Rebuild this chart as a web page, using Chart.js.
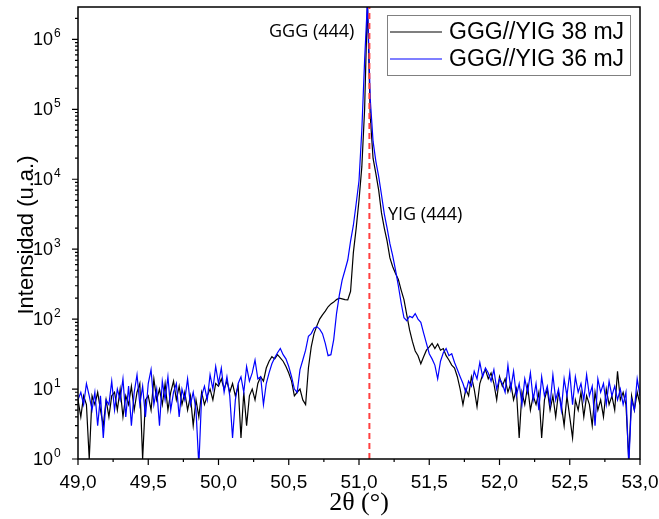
<!DOCTYPE html>
<html>
<head>
<meta charset="utf-8">
<script src="https://cdn.jsdelivr.net/npm/chart.js@4.4.0/dist/chart.umd.min.js"></script>
<style>
  html, body { margin: 0; padding: 0; background: #fff; }
</style>
</head>
<body>
<canvas id="xrd" width="659" height="519"></canvas>
<script>
// 2theta grid, 49.00 .. 53.00 in steps of 0.02
const thetaStart = 49.0;
const thetaStep = 0.02;

// GGG//YIG 38 mJ (black), one row = 0.2 deg
const counts38 = [
  7, 4, 8, 6, 1, 8, 6, 9, 5, 3,
  7, 4, 8, 9, 5, 10, 4, 8, 6, 11,
  5, 9, 12, 1, 7, 8, 5, 14, 7, 10,
  6, 12, 5, 9, 13, 7, 11, 6, 9, 5,
  8, 3, 7, 4, 9, 6, 8, 10, 7, 12,
  11, 14, 10, 13, 9, 12, 8, 11, 2, 9,
  3, 8, 10, 7, 12, 15, 13, 20, 25, 29,
  27, 31, 28, 25, 21, 17, 13, 8, 9, 10,
  7, 6, 20, 40, 62, 80, 100, 115, 130, 150,
  165, 175, 190, 200, 195, 190, 188, 250, 900, 2000,
  5000, 15000, 100000, 3500000, 80000, 20000, 12000, 7000, 3300, 2000,
  1300, 750, 560, 450, 370, 260, 190, 115, 70, 48,
  35, 30, 23, 29, 36, 40, 45, 38, 44, 36,
  38, 30, 26, 22, 20, 15, 10, 6, 10, 8,
  15, 10, 5.6, 12, 16, 19, 14, 17, 12, 7,
  15, 11, 14, 9, 12, 7, 10, 2, 9, 6,
  11, 5, 8, 6, 9, 2, 7, 10, 5, 8,
  4, 9, 6, 3, 8, 4, 2, 7, 5, 9,
  4, 8, 6, 3, 9, 5, 7, 4, 10, 6,
  8, 5, 18, 7, 9, 6, 1, 8, 5, 9,
  6
];

// GGG//YIG 36 mJ (blue)
const counts36 = [
  7, 9, 6, 12, 8, 5, 9, 3, 8, 2,
  7, 6, 13, 5, 10, 7, 14, 4, 11, 3,
  9, 16, 6, 11, 4, 12, 19, 6, 10, 3,
  13, 7, 15, 5, 9, 12, 4, 10, 7, 14,
  6, 9, 5, 0.8, 8, 11, 7, 16, 10, 21,
  12, 20, 9, 15, 8, 2, 7, 12, 15, 9,
  21, 13, 17, 26, 14, 15, 6, 12, 17, 23,
  28, 33, 38, 31, 27, 21, 15, 10, 9, 19,
  26, 36, 57, 62, 74, 78, 72, 62, 45, 30,
  31, 51, 120, 220, 360, 500, 700, 1300, 2200, 4500,
  9500, 50000, 500000, 3500000, 140000, 35000, 18000, 11000, 6000, 3200,
  2000, 1200, 800, 500, 300, 170, 105, 95, 110, 105,
  120, 100, 90, 63, 45, 32, 27, 22, 14, 25,
  33, 38, 30, 32, 24, 19, 15, 12, 9, 13,
  11, 18, 14, 24, 15, 20, 17, 13, 19, 10,
  14, 12, 9, 22, 10, 18, 8, 12, 6, 14,
  9, 17, 7, 12, 5, 15, 8, 11, 6, 16,
  7, 10, 5, 14, 8, 17, 6, 15, 9, 12,
  7, 16, 8, 11, 3, 14, 9, 12, 6, 13,
  8, 11, 7, 10, 6, 9, 0.8, 7, 5, 14,
  8
];

const seriesLabels = ['GGG//YIG 38 mJ', 'GGG//YIG 36 mJ'];
const xTickValues = [49.0, 49.5, 50.0, 50.5, 51.0, 51.5, 52.0, 52.5, 53.0];
const xTickLabels = ['49,0', '49,5', '50,0', '50,5', '51,0', '51,5', '52,0', '52,5', '53,0'];
const yExponents = [0, 1, 2, 3, 4, 5, 6];
const ggg444 = 51.074; // red dashed marker
const yMax = 2.9e6;

function toPoints(values) {
  return values.map((v, i) => ({ x: +(thetaStart + i * thetaStep).toFixed(2), y: v }));
}

const sansFont = '"Liberation Sans", Arial, sans-serif';

// frame, ticks, labels, legend and peak names
const decorations = {
  id: 'decorations',
  afterDraw(chart) {
    const ctx = chart.ctx;
    const area = chart.chartArea;
    const xs = chart.scales.x;
    const ys = chart.scales.y;
    ctx.save();

    ctx.strokeStyle = '#000';
    ctx.lineWidth = 1.5;
    ctx.strokeRect(area.left, area.top, area.right - area.left, area.bottom - area.top);

    // x ticks
    ctx.lineWidth = 1.2;
    ctx.beginPath();
    xTickValues.forEach((v, i) => {
      const px = xs.getPixelForValue(v);
      ctx.moveTo(px, area.bottom);
      ctx.lineTo(px, area.bottom + 6);
      if (i < xTickValues.length - 1) {
        const mx = xs.getPixelForValue((v + xTickValues[i + 1]) / 2);
        ctx.moveTo(mx, area.bottom);
        ctx.lineTo(mx, area.bottom + 3);
      }
    });
    // y ticks (log, minor at 2..9)
    yExponents.forEach(e => {
      for (let m = 1; m <= 9; m++) {
        const v = m * Math.pow(10, e);
        if (v > yMax) break;
        const py = ys.getPixelForValue(v);
        ctx.moveTo(area.left, py);
        ctx.lineTo(area.left - (m === 1 ? 6 : 3), py);
      }
    });
    ctx.stroke();

    // x tick labels
    ctx.fillStyle = '#000';
    ctx.font = '19px ' + sansFont;
    ctx.textAlign = 'center';
    ctx.textBaseline = 'middle';
    xTickValues.forEach((v, i) => {
      ctx.fillText(xTickLabels[i], xs.getPixelForValue(v), area.bottom + 24);
    });

    // y tick labels 10^n
    yExponents.forEach(e => {
      const py = ys.getPixelForValue(Math.pow(10, e));
      ctx.font = '18px ' + sansFont;
      ctx.textAlign = 'right';
      ctx.textBaseline = 'middle';
      ctx.fillText('10', 53, py + 1);
      ctx.font = '12px ' + sansFont;
      ctx.textAlign = 'left';
      ctx.textBaseline = 'alphabetic';
      ctx.fillText(String(e), 54, py - 2);
    });

    // axis titles
    ctx.save();
    ctx.translate(33, 235);
    ctx.rotate(-Math.PI / 2);
    ctx.font = '22px ' + sansFont;
    ctx.textAlign = 'center';
    ctx.textBaseline = 'alphabetic';
    ctx.fillText('Intensidad (u.a.)', 0, 0);
    ctx.restore();

    ctx.font = '26px "Liberation Serif", "Times New Roman", serif';
    ctx.textAlign = 'center';
    ctx.textBaseline = 'alphabetic';
    ctx.fillText('2θ (°)', (area.left + area.right) / 2, 510);

    // peak names
    ctx.font = '18px "Open Sans", sans-serif';
    ctx.textAlign = 'left';
    ctx.fillText('GGG (444)', 269, 37);
    ctx.fillText('YIG (444)', 388, 220);

    // legend
    ctx.fillStyle = '#fff';
    ctx.fillRect(387, 15, 244, 61);
    ctx.strokeStyle = '#808080';
    ctx.lineWidth = 1;
    ctx.strokeRect(387.5, 15.5, 243, 60);
    const legendColors = ['#000000', '#0000ff'];
    const legendY = [32, 59];
    ctx.font = '23px ' + sansFont;
    ctx.textBaseline = 'middle';
    seriesLabels.forEach((lab, i) => {
      ctx.strokeStyle = legendColors[i];
      ctx.lineWidth = 1.2;
      ctx.beginPath();
      ctx.moveTo(390, legendY[i]);
      ctx.lineTo(442, legendY[i]);
      ctx.stroke();
      ctx.fillStyle = '#000';
      ctx.fillText(lab, 449, legendY[i] + 1);
    });

    ctx.restore();
  }
};

new Chart(document.getElementById('xrd'), {
  type: 'line',
  data: {
    datasets: [
      {
        label: 'GGG (444)',
        data: [{ x: ggg444, y: 1 }, { x: ggg444, y: yMax }],
        borderColor: '#ff4040',
        borderWidth: 2,
        borderDash: [6, 4],
        order: 0
      },
      {
        label: seriesLabels[1],
        data: toPoints(counts36),
        borderColor: '#0000ff',
        borderWidth: 1.2,
        order: 1
      },
      {
        label: seriesLabels[0],
        data: toPoints(counts38),
        borderColor: '#000000',
        borderWidth: 1.2,
        order: 2
      }
    ]
  },
  options: {
    responsive: false,
    animation: false,
    devicePixelRatio: 1,
    layout: { padding: { left: 78, right: 19, top: 7, bottom: 60 } },
    elements: { point: { radius: 0 }, line: { tension: 0 } },
    scales: {
      x: { type: 'linear', min: 49, max: 53, display: false },
      y: { type: 'logarithmic', min: 1, max: yMax, display: false }
    },
    plugins: {
      legend: { display: false },
      tooltip: { enabled: false }
    }
  },
  plugins: [decorations]
});
</script>
</body>
</html>
